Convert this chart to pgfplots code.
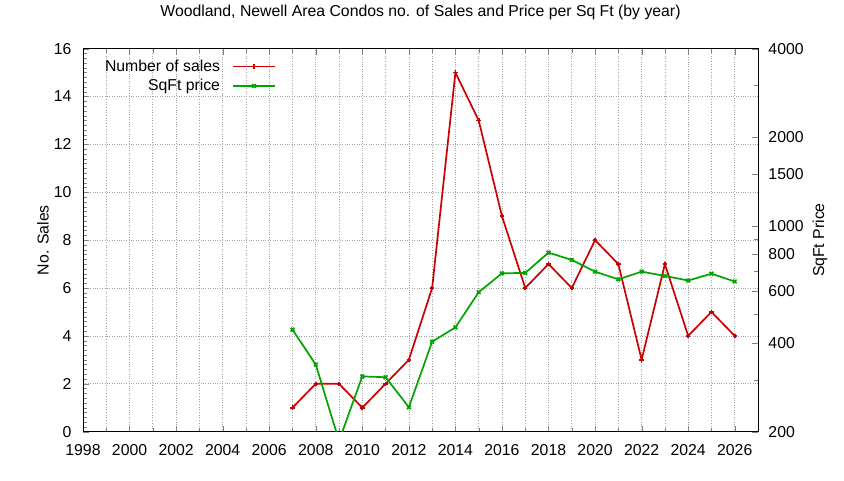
\documentclass[border=0pt]{standalone}
\usepackage{fontspec}
\setmainfont{Liberation Sans}
\usepackage{pgfplots}
\pgfplotsset{compat=1.18}
\definecolor{salesred}{RGB}{204,0,0}
\definecolor{pricegreen}{RGB}{0,165,0}
\newcommand\chartfont{\fontsize{15.8pt}{19pt}\selectfont}
\begin{document}
\chartfont
\begin{tikzpicture}
\pgfplotsset{
  every axis/.append style={
    scale only axis, width=675pt, height=383pt,
    xmin=1998, xmax=2027,
    tick align=inside,
    major tick length=6pt, minor tick length=4pt,
    /pgf/number format/assume math mode=true,
    tick label style={font=\chartfont},
    label style={font=\chartfont},
  },
}
\begin{axis}[
    ymin=0, ymax=16,
    ytick={0,2,...,16},
    minor y tick num=9,
    ytick pos=left,
    xtick={1998,2000,...,2026},
    minor xtick={1999,2001,...,2025},
    xticklabels={1998,2000,2002,2004,2006,2008,2010,2012,2014,2016,2018,2020,2022,2024,2026},
    xticklabel style={yshift=-7pt},
    yticklabel style={xshift=-6pt},
    xmajorgrids, xminorgrids, ymajorgrids,
    grid style={dotted, gray!70, line width=0.7pt},
    minor grid style={dotted, gray!70, line width=0.7pt},
    ylabel={No. Sales},
    ylabel style={at={(axis description cs:-0.0593,0.5)}, anchor=center},
    title={Woodland, Newell Area Condos no. of Sales and Price per Sq Ft (by year)},
    title style={at={(axis description cs:0.5,1)}, anchor=center, yshift=30pt, font=\chartfont},
]
\addplot[salesred, line width=1.7pt, mark=+, mark size=2.2pt] coordinates {
  (2007,1) (2008,2) (2009,2) (2010,1) (2011,2) (2012,3) (2013,6) (2014,15)
  (2015,13) (2016,9) (2017,6) (2018,7) (2019,6) (2020,8) (2021,7) (2022,3)
  (2023,7) (2024,4) (2025,5) (2026,4)
};
\end{axis}
\begin{axis}[
    ymode=log,
    ymin=200, ymax=4000,
    axis x line=none,
    axis y line*=right,
    ytick={200,400,600,800,1000,1500,2000,4000},
    yticklabels={200,400,600,800,1000,1500,2000,4000},
    minor ytick={300,500,700,900,3000},
    yticklabel style={xshift=5pt},
    ylabel={SqFt Price},
    ylabel style={at={(axis description cs:1.0919,0.5)}, anchor=center},
    legend style={at={(axis description cs:0.2903,0.982)}, anchor=north east,
      draw=none, fill=none, font=\chartfont,
      row sep=1.5pt},
    legend cell align=right,
    legend plot pos=right,
    legend image code/.code={
      \path (0pt,0pt);
      \draw[mark repeat=2, mark phase=2, #1] plot coordinates {(10pt,0pt) (31pt,0pt) (52pt,0pt)};
    },
]
\addlegendimage{salesred, line width=1.7pt, mark=+, mark size=2.2pt}
\addlegendentry{Number of sales}
\addplot[pricegreen, line width=1.7pt, mark=x, mark size=2.6pt] coordinates {
  (2007,444) (2008,338) (2009,186) (2010,308) (2011,306) (2012,242) (2013,404)
  (2014,452) (2015,595) (2016,690) (2017,692) (2018,811) (2019,766) (2020,699)
  (2021,658) (2022,699) (2023,676) (2024,652) (2025,688) (2026,647)
};
\addlegendentry{SqFt price}
\end{axis}
\useasboundingbox (-83pt,-49pt) rectangle (761pt,431pt);
\end{tikzpicture}
\end{document}
